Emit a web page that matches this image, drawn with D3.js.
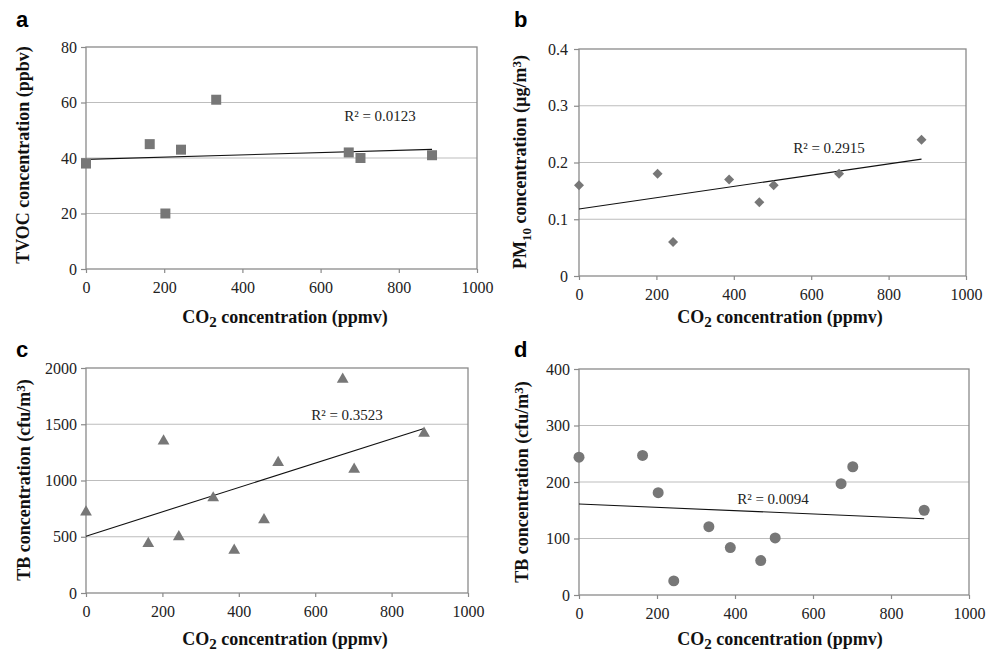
<!DOCTYPE html>
<html>
<head>
<meta charset="utf-8">
<script src="https://cdn.jsdelivr.net/npm/d3@7"></script>
<style>
  body { margin: 0; background: #fff; }
  text { font-family: "Liberation Serif", "Times New Roman", serif; }
</style>
</head>
<body>
<div id="chart"></div>
<script>
var svg_width = 998,
    svg_height = 653;

// data
var co2A = [0, 163, 203, 243, 333, 672, 702, 885];
var tvoc = [38, 45, 20, 43, 61, 42, 40, 41];
var co2B = [0, 203, 243, 388, 466, 503, 672, 885];
var pm10 = [0.16, 0.18, 0.06, 0.17, 0.13, 0.16, 0.18, 0.24];
var co2C = [0, 163, 203, 243, 333, 388, 466, 503, 672, 702, 885];
var tbC = [720, 440, 1350, 500, 845, 380, 650, 1160, 1900, 1100, 1420];
var co2D = [0, 163, 203, 243, 333, 388, 466, 503, 672, 702, 885];
var tbD = [244, 247, 181, 25, 121, 84, 61, 101, 197, 227, 150];

// trend line ends (at x = 0 and x = 885)
var trendX = [0, 885];
var trendA = [39.5, 43.1];
var trendB = [0.118, 0.206];
var trendC = [505, 1463];
var trendD = [161, 135];

var r2Labels = ['R² = 0.0123', 'R² = 0.2915', 'R² = 0.3523', 'R² = 0.0094'];
var xTicks = [0, 200, 400, 600, 800, 1000];
var yTicksA = [0, 20, 40, 60, 80];
var yTicksB = [0, 0.1, 0.2, 0.3, 0.4];
var yTicksC = [0, 500, 1000, 1500, 2000];
var yTicksD = [0, 100, 200, 300, 400];

var panels = [
  { letter: 'a', x: co2A, y: tvoc, trend: trendA, yTicks: yTicksA, fmt: d3.format('d'), pad: 4,
    box: { left: 86, right: 477, top: 47, bottom: 269 }, marker: 'square',
    r2: { x: 380, y: 121 }, xLab: { x: 285, y: 323 }, yLab: { x: 29, y: 155 },
    yLabel: [['TVOC concentration (ppbv)', 0]] },
  { letter: 'b', x: co2B, y: pm10, trend: trendB, yTicks: yTicksB, fmt: d => d === 0 ? '0' : d.toFixed(1), pad: 6,
    box: { left: 579, right: 966, top: 49, bottom: 276 }, marker: 'diamond',
    r2: { x: 829, y: 153 }, xLab: { x: 780, y: 323 }, yLab: { x: 526, y: 162 },
    yLabel: [['PM', 0], ['10', 1], [' concentration (µg/m', 0], ['3', -1], [')', 0]] },
  { letter: 'c', x: co2C, y: tbC, trend: trendC, yTicks: yTicksC, fmt: d3.format('d'), pad: 4,
    box: { left: 86, right: 468, top: 368, bottom: 593 }, marker: 'triangle',
    r2: { x: 347, y: 420 }, xLab: { x: 285, y: 645 }, yLab: { x: 30, y: 480 },
    yLabel: [['TB concentration (cfu/m', 0], ['3', -1], [')', 0]] },
  { letter: 'd', x: co2D, y: tbD, trend: trendD, yTicks: yTicksD, fmt: d3.format('d'), pad: 4,
    box: { left: 579, right: 969, top: 369, bottom: 595 }, marker: 'circle',
    r2: { x: 773, y: 504 }, xLab: { x: 780, y: 645 }, yLab: { x: 528, y: 482 },
    yLabel: [['TB concentration (cfu/m', 0], ['3', -1], [')', 0]] }
];

var symbols = {
  square: d3.symbol().type(d3.symbolSquare).size(100),
  diamond: d3.symbol().type(d3.symbolSquare).size(50),
  triangle: d3.symbol().type(d3.symbolTriangle).size(60),
  circle: d3.symbol().type(d3.symbolCircle).size(95)
};

var svg = d3.select('#chart')
    .append('svg')
    .attr('width', svg_width)
    .attr('height', svg_height);

panels.forEach((p, i) => {
  var b = p.box;
  var xScale = d3.scaleLinear().domain([0, 1000]).range([b.left, b.right]);
  var yScale = d3.scaleLinear().domain([p.yTicks[0], p.yTicks[p.yTicks.length - 1]]).range([b.bottom, b.top]);

  // gridlines
  svg.append('g')
    .selectAll('line')
    .data(p.yTicks.slice(1, -1))
    .enter()
      .append('line')
      .attr('x1', b.left).attr('x2', b.right)
      .attr('y1', d => yScale(d)).attr('y2', d => yScale(d))
      .style('stroke', '#bdbdbd')
      .style('stroke-width', 1.2);

  // frame
  svg.append('rect')
    .attr('x', b.left).attr('y', b.top)
    .attr('width', b.right - b.left).attr('height', b.bottom - b.top)
    .style('fill', 'none')
    .style('stroke', '#8a8a8a')
    .style('stroke-width', 1.3);

  var xAxis = d3.axisBottom(xScale).tickValues(xTicks).tickSize(4).tickPadding(9).tickFormat(d3.format('d'));
  var yAxis = d3.axisLeft(yScale).tickValues(p.yTicks).tickSize(5).tickPadding(p.pad).tickFormat(p.fmt);

  [svg.append('g').attr('transform', `translate(0, ${b.bottom})`).call(xAxis),
   svg.append('g').attr('transform', `translate(${b.left}, 0)`).call(yAxis)]
    .forEach(g => {
      g.attr('font-family', null).attr('font-size', null);
      g.select('.domain').remove();
      g.selectAll('line').style('stroke', '#8a8a8a').style('stroke-width', 1.2);
      g.selectAll('text').style('font-family', '"Liberation Serif", serif')
        .style('font-size', '16px').style('fill', '#222');
    });

  // trend line
  svg.append('line')
    .attr('x1', xScale(trendX[0])).attr('y1', yScale(p.trend[0]))
    .attr('x2', xScale(trendX[1])).attr('y2', yScale(p.trend[1]))
    .style('stroke', '#111')
    .style('stroke-width', 1.1);

  // points
  svg.append('g')
    .selectAll('path')
    .data(p.x.map((x, j) => [x, p.y[j]]))
    .enter()
      .append('path')
      .attr('d', symbols[p.marker])
      .attr('transform', d => `translate(${xScale(d[0])}, ${yScale(d[1])})` + (p.marker === 'diamond' ? ' rotate(45)' : ''))
      .style('fill', '#777');

  svg.append('text')
    .attr('x', p.r2.x).attr('y', p.r2.y)
    .attr('text-anchor', 'middle')
    .style('font-size', '15px')
    .style('fill', '#222')
    .text(r2Labels[i]);

  // panel letter
  svg.append('text')
    .attr('x', b.left < 300 ? 16 : 514)
    .attr('y', b.top > 300 ? 357 : 27)
    .style('font-family', '"Liberation Sans", Arial, sans-serif')
    .style('font-weight', 'bold')
    .style('font-size', '22px')
    .text(p.letter);

  // x label
  var xl = svg.append('text')
    .attr('x', p.xLab.x).attr('y', p.xLab.y)
    .attr('text-anchor', 'middle')
    .style('font-weight', 'bold')
    .style('font-size', '18px')
    .style('fill', '#111');
  xl.append('tspan').text('CO');
  xl.append('tspan').attr('dy', 4).style('font-size', '15px').text('2');
  xl.append('tspan').attr('dy', -4).text(' concentration (ppmv)');

  // y label
  var yl = svg.append('text')
    .attr('transform', `translate(${p.yLab.x}, ${p.yLab.y}) rotate(-90)`)
    .attr('text-anchor', 'middle')
    .style('font-weight', 'bold')
    .style('font-size', '18px')
    .style('fill', '#111');
  var shift = 0;
  p.yLabel.forEach(part => {
    var t = yl.append('tspan').text(part[0]);
    var target = part[1] * 5;
    if (target !== shift) { t.attr('dy', target - shift); shift = target; }
    if (part[1] !== 0) t.style('font-size', '13px');
  });
});
</script>
</body>
</html>
